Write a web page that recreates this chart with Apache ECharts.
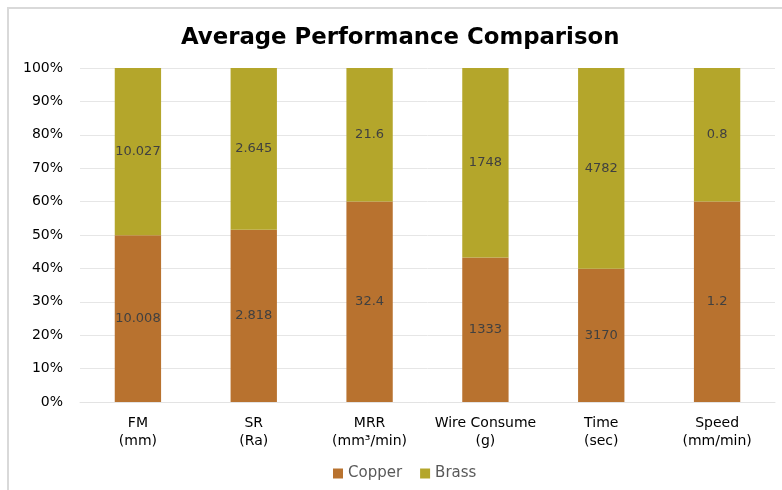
<!DOCTYPE html>
<html>
<head>
<meta charset="utf-8">
<script src="https://cdn.jsdelivr.net/npm/echarts@6/dist/echarts.min.js"></script>
<style>
  html, body { margin: 0; padding: 0; background: #ffffff; }
  #chart { width: 782px; height: 490px; }
</style>
</head>
<body>
<div id="chart"></div>
<script>
// Categories and raw averages for each wire material
const categories = ['FM\n(mm)', 'SR\n(Ra)', 'MRR\n(mm³/min)', 'Wire Consume\n(g)', 'Time\n(sec)', 'Speed\n(mm/min)'];
const copperValues = [10.008, 2.818, 32.4, 1333, 3170, 1.2];
const brassValues = [10.027, 2.645, 21.6, 1748, 4782, 0.8];
const copperLabels = ['10.008', '2.818', '32.4', '1333', '3170', '1.2'];
const brassLabels = ['10.027', '2.645', '21.6', '1748', '4782', '0.8'];

// Share of each category total, in percent (100% stacked columns)
const copperShare = copperValues.map((v, i) => v / (v + brassValues[i]) * 100);
const brassShare = brassValues.map((v, i) => v / (copperValues[i] + v) * 100);

const chart = echarts.init(document.getElementById('chart'));
const labelStyle = {
  show: true,
  position: 'inside',
  color: '#404040',
  fontFamily: 'DejaVu Sans',
  fontSize: 13
};

chart.setOption({
  backgroundColor: '#ffffff',
  animation: false,
  graphic: [{
    type: 'rect',
    shape: { x: 8, y: 8, width: 800, height: 520 },
    style: { fill: 'none', stroke: '#d9d9d9', lineWidth: 2 },
    silent: true
  }],
  title: {
    text: 'Average Performance Comparison',
    left: 176,
    top: 22,
    textStyle: { fontFamily: 'DejaVu Sans', fontWeight: 'bold', fontSize: 22.8, color: '#000000' }
  },
  legend: {
    bottom: 4,
    left: 328,
    icon: 'rect',
    itemWidth: 10,
    itemHeight: 10,
    itemGap: 18,
    textStyle: { fontFamily: 'DejaVu Sans', fontSize: 15, color: '#595959' },
    data: ['Copper', 'Brass']
  },
  grid: { left: 80, right: 7, top: 68, bottom: 88, containLabel: false },
  xAxis: {
    type: 'category',
    data: categories,
    axisLine: { show: true, lineStyle: { color: '#e3e3e3', width: 1 } },
    axisTick: { show: false },
    axisLabel: {
      color: '#000000',
      fontFamily: 'DejaVu Sans',
      fontSize: 14,
      lineHeight: 18,
      margin: 12,
      interval: 0
    }
  },
  yAxis: {
    type: 'value',
    min: 0,
    max: 100,
    interval: 10,
    axisLine: { show: false },
    axisTick: { show: false },
    splitLine: { lineStyle: { color: '#e6e6e6', width: 1 } },
    axisLabel: {
      formatter: '{value}%',
      color: '#000000',
      fontFamily: 'DejaVu Sans',
      fontSize: 14,
      margin: 17
    }
  },
  series: [
    {
      name: 'Copper',
      type: 'bar',
      stack: 'total',
      barWidth: '40%',
      itemStyle: { color: '#B8722F' },
      label: Object.assign({}, labelStyle, { formatter: p => copperLabels[p.dataIndex] }),
      data: copperShare
    },
    {
      name: 'Brass',
      type: 'bar',
      stack: 'total',
      barWidth: '40%',
      itemStyle: { color: '#B4A62B' },
      label: Object.assign({}, labelStyle, { formatter: p => brassLabels[p.dataIndex] }),
      data: brassShare
    }
  ]
});
</script>
</body>
</html>
